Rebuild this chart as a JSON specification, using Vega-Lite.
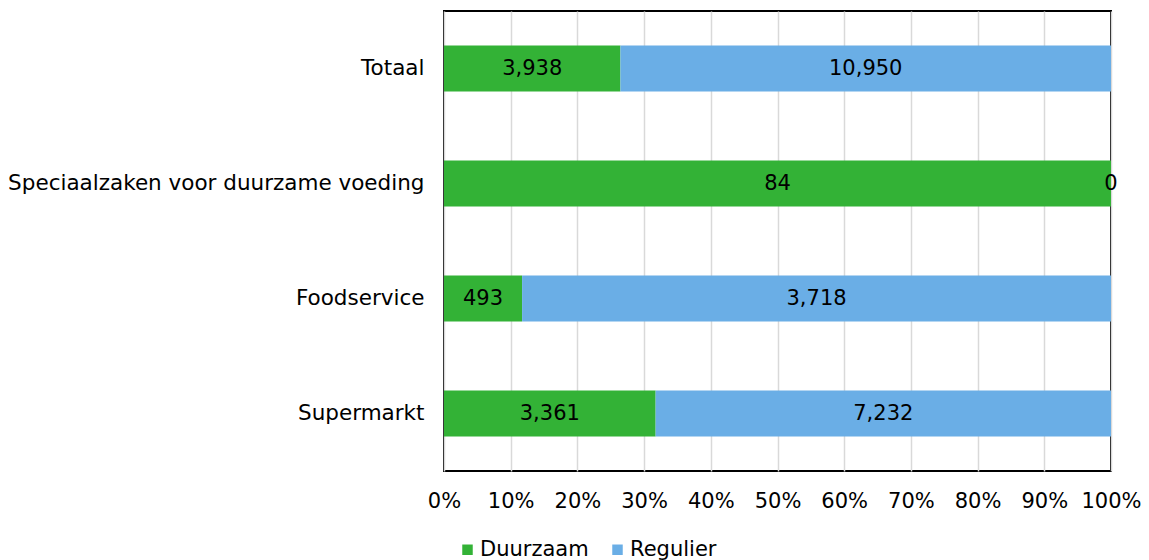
{
  "$schema": "https://vega.github.io/schema/vega-lite/v6.json",
  "width": 667,
  "height": 460,
  "autosize": {"type": "none"},
  "padding": {"left": 444, "top": 11, "right": 38, "bottom": 89},
  "background": "white",
  "config": {
    "font": "DejaVu Sans",
    "view": {"stroke": "black", "strokeWidth": 2},
    "axis": {"labelFont": "DejaVu Sans", "labelFontSize": 21, "labelColor": "black", "domain": false, "ticks": false, "labelLimit": 500},
    "legend": {"labelFont": "DejaVu Sans", "labelFontSize": 21, "labelColor": "black", "labelLimit": 300}
  },
  "data": {
    "values": [
      {"kanaal": "Totaal", "type": "Duurzaam", "waarde": 3938},
      {"kanaal": "Totaal", "type": "Regulier", "waarde": 10950},
      {"kanaal": "Speciaalzaken voor duurzame voeding", "type": "Duurzaam", "waarde": 84},
      {"kanaal": "Speciaalzaken voor duurzame voeding", "type": "Regulier", "waarde": 0},
      {"kanaal": "Foodservice", "type": "Duurzaam", "waarde": 493},
      {"kanaal": "Foodservice", "type": "Regulier", "waarde": 3718},
      {"kanaal": "Supermarkt", "type": "Duurzaam", "waarde": 3361},
      {"kanaal": "Supermarkt", "type": "Regulier", "waarde": 7232}
    ]
  },
  "transform": [
    {"stack": "waarde", "groupby": ["kanaal"], "sort": [{"field": "type", "order": "ascending"}], "offset": "normalize", "as": ["x0", "x1"]},
    {"calculate": "(datum.x0 + datum.x1) / 2", "as": "xm"}
  ],
  "encoding": {
    "y": {
      "field": "kanaal",
      "type": "nominal",
      "sort": ["Totaal", "Speciaalzaken voor duurzame voeding", "Foodservice", "Supermarkt"],
      "scale": {"paddingInner": 0.6, "paddingOuter": 0.3},
      "axis": {"title": null, "labelPadding": 20, "labelFontSize": 21.5}
    }
  },
  "layer": [
    {
      "mark": {"type": "bar"},
      "encoding": {
        "x": {"field": "x0", "type": "quantitative", "scale": {"domain": [0, 1]},
          "axis": {"title": null, "format": "%", "values": [0,0.1,0.2,0.3,0.4,0.5,0.6,0.7,0.8,0.9,1], "grid": true, "gridColor": "#d9d9d9", "gridWidth": 1.5, "labelPadding": 19, "labelOverlap": false, "labelFlush": false}},
        "x2": {"field": "x1"},
        "color": {
          "field": "type", "type": "nominal",
          "scale": {"domain": ["Duurzaam", "Regulier"], "range": ["#33b236", "#6aaee6"]},
          "legend": {"title": null, "orient": "none", "direction": "horizontal", "legendX": 13, "legendY": 528, "symbolType": "square", "symbolSize": 110, "symbolStrokeWidth": 0, "columnPadding": 18, "labelOffset": 2}
        }
      }
    },
    {
      "mark": {"type": "text", "fontSize": 21, "color": "black"},
      "encoding": {
        "x": {"field": "xm", "type": "quantitative"},
        "text": {"field": "waarde", "type": "quantitative", "format": ","}
      }
    }
  ]
}
